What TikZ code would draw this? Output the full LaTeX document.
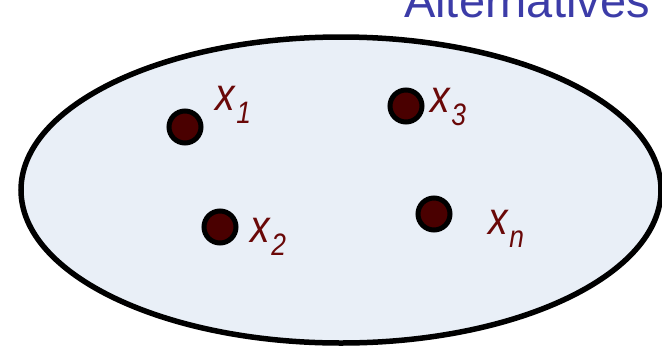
\documentclass[tikz,border=0pt]{standalone}
\usepackage{fontspec}
\setmainfont{Liberation Sans}
\definecolor{setfill}{HTML}{E9EFF7}
\definecolor{dotred}{HTML}{4A0000}
\definecolor{labred}{HTML}{6A0808}
\definecolor{titleblue}{HTML}{3C3CA8}
\newcommand{\altlab}[1]{x\hspace{2pt}\raisebox{-13pt}{\fontsize{31}{31}\selectfont\itshape #1}}

\begin{document}
\begin{tikzpicture}[x=1pt, y=-1pt,
  alt/.style={circle, draw=black, line width=5pt, fill=dotred, minimum size=32pt, inner sep=0pt},
  lab/.style={text=labred, font=\fontsize{46}{46}\selectfont\itshape, inner sep=0pt,
    anchor=base west, xscale=0.85, transform shape},
]
  \useasboundingbox (0,0) rectangle (662,349);
  \clip (0,0) rectangle (662,349);
  % the set of alternatives
  \draw[line width=5.5pt, fill=setfill] (341,190) ellipse [x radius=320, y radius=153];
  \node[text=titleblue, font=\fontsize{47}{47}\selectfont, anchor=base west, inner sep=0pt] (title) at (404,17) {Alternatives};
  % the alternatives
  \node[alt] (a1) at (185,127) {};
  \node[alt] (a2) at (220,227) {};
  \node[alt] (a3) at (406,106) {};
  \node[alt] (an) at (434,214) {};
  \node[lab] (l1) at (215,110) {\altlab{1}};
  \node[lab] (l3) at (430,112) {\altlab{3}};
  \node[lab] (l2) at (250,242) {\altlab{2}};
  \node[lab] (ln) at (488,234) {\altlab{n}};
\end{tikzpicture}
\end{document}
